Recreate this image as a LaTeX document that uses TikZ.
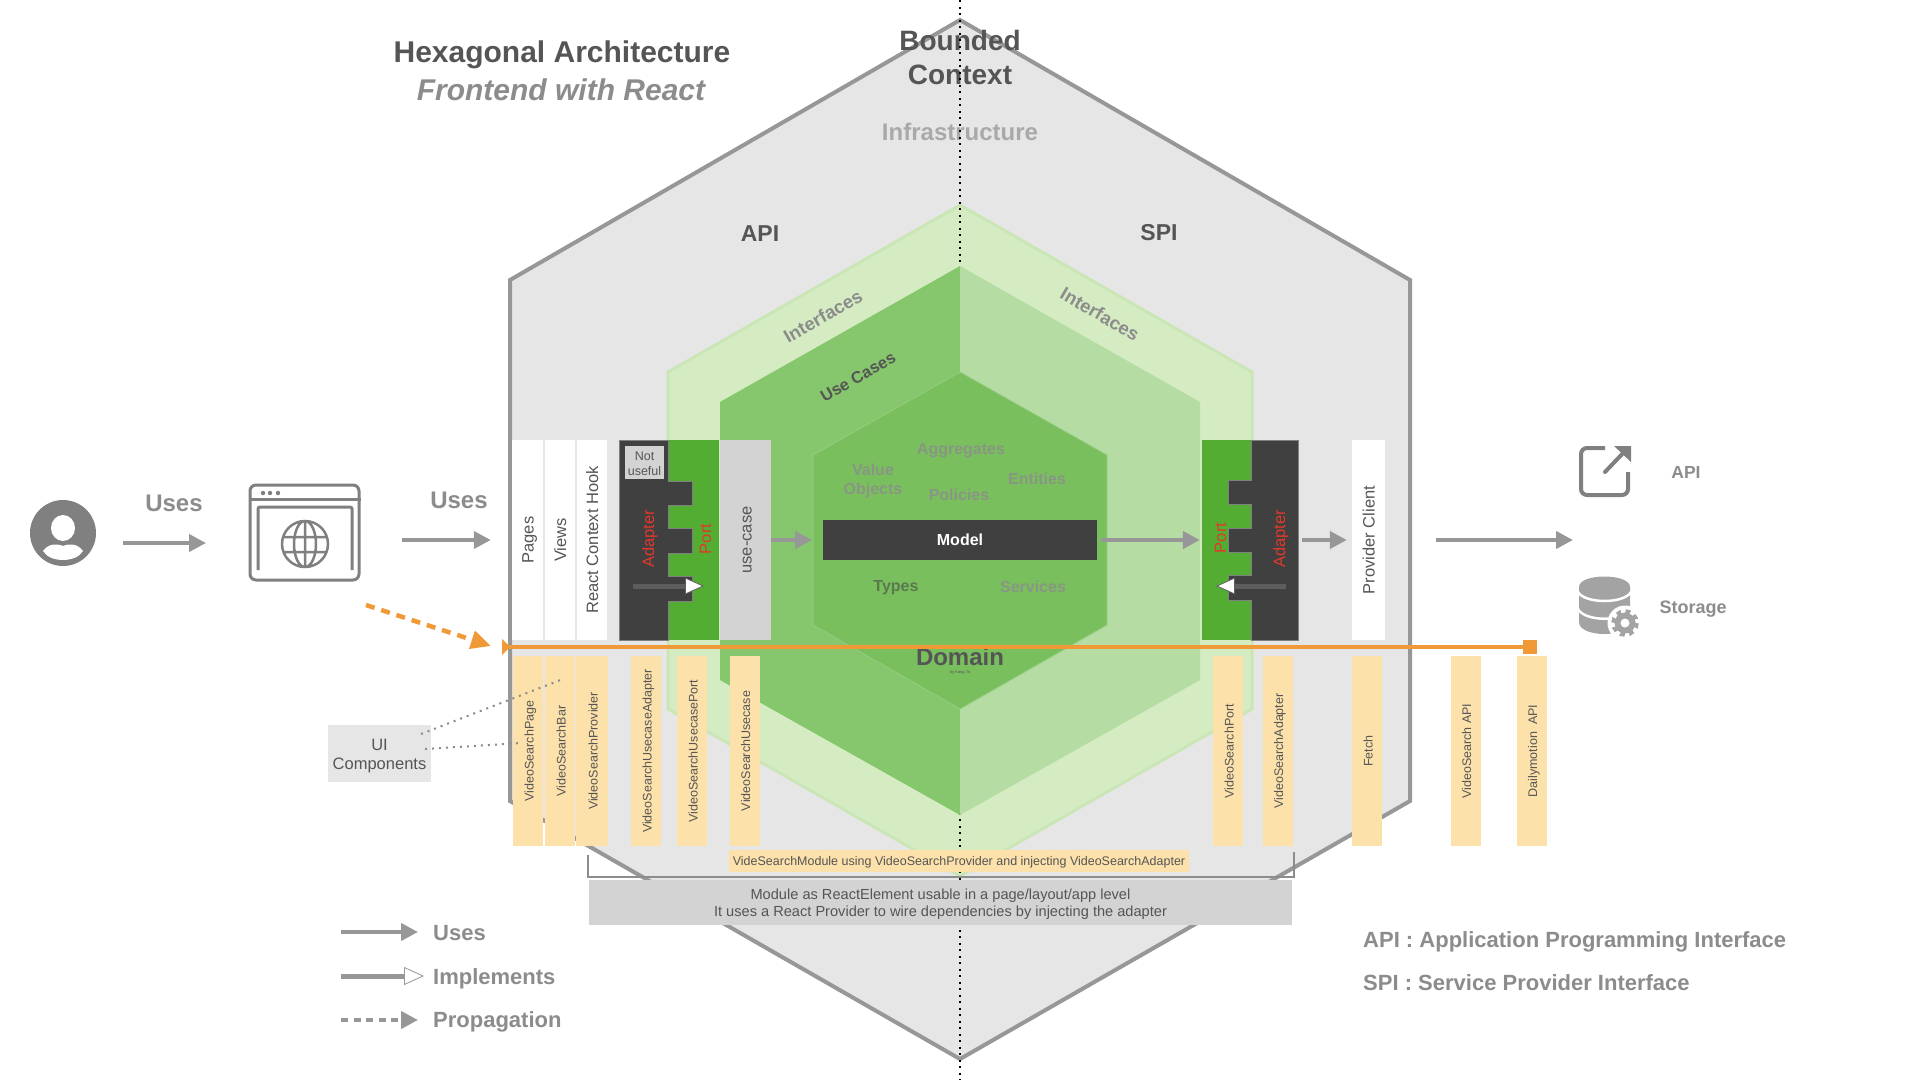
\documentclass[tikz,border=0pt]{standalone}
\usepackage{fontspec}
\setmainfont{Liberation Sans}
\usetikzlibrary{arrows.meta}

\definecolor{hexgray}{HTML}{E6E6E6}
\definecolor{linegray}{HTML}{979797}
\definecolor{labelgray}{HTML}{8C8C8C}
\definecolor{textgray}{HTML}{555555}
\definecolor{icongray}{HTML}{808080}
\definecolor{storagegray}{HTML}{A3A3A3}
\definecolor{boxgray}{HTML}{D3D3D3}
\definecolor{darkbox}{HTML}{404040}
\definecolor{interfacegreen}{HTML}{D5ECC2}
\definecolor{interfaceedge}{HTML}{CBE6B6}
\definecolor{usecasegreen}{HTML}{86C66C}
\definecolor{usecaselight}{HTML}{B5DCA3}
\definecolor{domaingreen}{HTML}{7ABF5E}
\definecolor{domainedge}{HTML}{97CE82}
\definecolor{portgreen}{HTML}{53AD32}
\definecolor{stripyellow}{HTML}{FDE1AB}
\definecolor{propagorange}{HTML}{F09A37}
\definecolor{adapterred}{HTML}{E0392B}
\newcommand{\fs}[1]{\fontsize{#1}{#1}\selectfont}

\begin{document}
\begin{tikzpicture}[x=1pt,y=-1pt,every text node part/.style={align=center}]
  \tikzstyle{lane}=[rotate=90,inner sep=0pt,minimum width=200pt,text height=12pt,
    text depth=0pt,text=textgray,font=\fs{16.5}]
  \tikzstyle{stripbox}=[rotate=90,inner sep=0pt,fill=stripyellow,text height=11pt,
    text depth=0pt,minimum width=190pt,minimum height=30pt,text=textgray,font=\fs{12.5}]
  \tikzstyle{redlabel}=[rotate=90,inner sep=0pt,text height=12pt,text depth=0pt,
    text=adapterred,font=\fs{16.5}]
  \tikzstyle{heading}=[inner sep=0pt,text=textgray,font=\bfseries\fs{23}]
  \tikzstyle{domainlabel}=[inner sep=0pt,text=darkbox!55!domaingreen,
    font=\bfseries\fs{16}]
  \tikzstyle{faintlabel}=[domainlabel,text=labelgray!80!domaingreen]
  \tikzstyle{legendlabel}=[inner sep=0pt,anchor=west,text=labelgray,
    font=\bfseries\fs{22}]
  \tikzstyle{usesarrow}=[draw=linegray,line width=4pt,
    -{Triangle[length=17pt,width=17pt]}]
  \tikzstyle{flowarrow}=[draw=darkbox!85!white,line width=5pt,
    -{Triangle[length=19pt,width=17pt,fill=white,line width=.8pt]}]
  \tikzstyle{iconline}=[draw=icongray,line width=3pt]

  \path[fill=white,use as bounding box] (0,0) rectangle (1920,1080);

  \draw[fill=hexgray,draw=linegray,line width=4pt] (960,20) -- (1410,280)
    -- (1410,801) -- (960,1059) -- (510,801) -- (510,280) -- cycle;
  \draw[fill=interfacegreen,draw=interfaceedge,line width=3pt] (960,205)
    -- (1252,372) -- (1252,709) -- (960,876) -- (668,709) -- (668,372) -- cycle;

  \node[inner sep=0pt,text=textgray,font=\bfseries\fontsize{28}{34}\selectfont]
    (bounded) at (960,57) {Bounded\\Context};
  \node[inner sep=0pt,text=labelgray!75!white,font=\bfseries\fs{24}]
    (infrastructure) at (960,132) {Infrastructure};
  \node[heading] (apititle) at (760,234) {API};
  \node[heading] (spititle) at (1159,233) {SPI};
  \node[inner sep=0pt,rotate=30,text=labelgray,font=\bfseries\fs{18.5}]
    (interfacesleft) at (823,316) {Interfaces};
  \node[inner sep=0pt,rotate=-30,text=labelgray,font=\bfseries\fs{18.5}]
    (interfacesright) at (1100,314) {Interfaces};

  \draw[black,line width=1.5pt,dash pattern=on 2pt off 4.5pt] (960,0) -- (960,1080);

  \fill[usecasegreen] (960,266) -- (720,402) -- (720,680) -- (960,815) -- cycle;
  \fill[usecaselight] (960,266) -- (1200,402) -- (1200,680) -- (960,815) -- cycle;
  \draw[fill=domaingreen,draw=domainedge,line width=.75pt] (960,372) -- (1107,455)
    -- (1107,625) -- (960,709) -- (813,625) -- (813,455) -- cycle;
  \node[inner sep=0pt,rotate=30,text=textgray,font=\bfseries\fs{16.5}]
    (usecases) at (858,377) {Use Cases};

  \node[faintlabel] (aggregates) at (961,451) {Aggregates};
  \node[faintlabel,font=\bfseries\fontsize{16}{19}\selectfont]
    (valueobjects) at (873,481) {Value\\Objects};
  \node[faintlabel] (policies) at (959,495) {Policies};
  \node[faintlabel] (entities) at (1037,479) {Entities};
  \node[domainlabel] (types) at (896,588) {Types};
  \node[faintlabel] (services) at (1033,587) {Services};
  \node[inner sep=0pt,text=textgray,font=\bfseries\fs{24}] (domain) at (960,657) {Domain};
  \node[inner sep=0pt,text=textgray,font=\fs{4}] (byline) at (960,672) {by Kang To};

  \node[lane,fill=white,minimum height=31pt] (pages) at (527.5,540) {Pages};
  \node[lane,fill=white,minimum height=30pt] (views) at (560,540) {Views};
  \node[lane,fill=white,minimum height=30pt] (contexthook) at (592,540) {React Context Hook};

  \fill[portgreen] (668,440) rectangle (719,640);
  \draw[fill=darkbox,draw=icongray,line width=.75pt] (619,440) -- (668,440) -- (668,481)
    -- (692,481) -- (692,505) -- (668,505) -- (668,528) -- (692,528) -- (692,553)
    -- (668,553) -- (668,576) -- (692,576) -- (692,601) -- (668,601) -- (668,640)
    -- (619,640) -- cycle;
  \node[inner sep=0pt,fill=boxgray,minimum width=39pt,minimum height=33pt,text=textgray,
    font=\fontsize{12.5}{15}\selectfont] (notuseful) at (644.5,462.5) {\rule{0pt}{11pt}Not\\useful};
  \node[redlabel] (adapterleft) at (648,539) {Adapter};
  \node[redlabel] (portleft) at (705,539) {Port};
  \node[lane,fill=boxgray,minimum height=51pt] (usecase) at (745.5,540) {use-case};
  \coordinate (flowleftfrom) at (633,586);
  \coordinate (flowleftto) at (704,586);
  \draw[flowarrow] (flowleftfrom) -- (flowleftto);

  \node[inner sep=0pt,fill=darkbox,minimum width=274pt,minimum height=40pt,text=white,
    font=\bfseries\fs{16}] (model) at (960,540) {Model};

  \node[inner sep=0pt,fill=portgreen,minimum width=49pt,minimum height=200pt]
    (portbox) at (1226.5,540) {};
  \draw[fill=darkbox,draw=icongray,line width=.75pt] (1298,440) -- (1251,440) -- (1251,480)
    -- (1228,480) -- (1228,504) -- (1251,504) -- (1251,528) -- (1228,528) -- (1228,552)
    -- (1251,552) -- (1251,575) -- (1228,575) -- (1228,600) -- (1251,600) -- (1251,640)
    -- (1298,640) -- cycle;
  \node[redlabel] (portright) at (1220,538) {Port};
  \node[redlabel] (adapterright) at (1279,539) {Adapter};
  \coordinate (flowrightfrom) at (1286,586);
  \coordinate (flowrightto) at (1216,586);
  \draw[flowarrow] (flowrightfrom) -- (flowrightto);
  \node[lane,fill=white,minimum height=33pt] (providerclient) at (1368.5,540) {Provider Client};

  \coordinate (domainwest) at (812,540);
  \coordinate (adapterout) at (1302,540);
  \coordinate (providerout) at (1436,540);
  \coordinate (backendin) at (1573,540);
  \draw[usesarrow] (usecase.south) -- (domainwest);
  \draw[usesarrow,shorten <=4pt,shorten >=2pt] (model.east) -- (portbox.west);
  \draw[usesarrow,shorten >=5pt] (adapterout) -- (providerclient.north);
  \draw[usesarrow] (providerout) -- (backendin);

  \node[circle,fill=icongray,minimum size=66pt,inner sep=0pt] (user) at (63,533) {};
  \fill[white] (63,528) ellipse [x radius=12,y radius=13];
  \fill[white] (43,551) .. controls (48,544) and (56,543) .. (63,546)
    .. controls (70,543) and (78,544) .. (83,551)
    .. controls (76,563) and (50,563) .. (43,551) -- cycle;

  \node[iconline,rounded corners=6pt,minimum width=109pt,minimum height=95pt,inner sep=0pt]
    (browser) at (304.5,532.5) {};
  \draw[iconline] (browser.west |- 0,499) -- (browser.east |- 0,499);
  \draw[iconline,rounded corners=2pt] (258,570) -- (258,507) -- (352,507) -- (352,570);
  \fill[icongray] (263,493) circle (2.2) (270,493) circle (2.2) (278,493) circle (2.2);
  \draw[iconline,line width=2.5pt] (305,544) circle (23) (305,544) ellipse [x radius=11,y radius=23]
    (305,521) -- (305,567) (284,537) -- (326,537) (284,552) -- (326,552);

  \coordinate (userout) at (123,543);
  \coordinate (browserin) at (206,543);
  \coordinate (browserout) at (402,540);
  \draw[usesarrow] (userout) -- (browserin);
  \draw[usesarrow,shorten >=21pt] (browserout) -- (pages.north);
  \node[legendlabel,anchor=center,font=\bfseries\fs{24}] (usesone) at (174,503) {Uses};
  \node[legendlabel,anchor=center,font=\bfseries\fs{24}] (usestwo) at (459,500) {Uses};

  \coordinate (orangefrom) at (366,605);
  \coordinate (orangeto) at (491,646);
  \draw[propagorange,line width=4.5pt,dash pattern=on 9pt off 7pt,
    -{Triangle[length=20pt,width=18pt]}] (orangefrom) -- (orangeto);
  \coordinate (timelinefrom) at (502,647);
  \coordinate (timelineto) at (1537,647);
  \draw[propagorange,line width=4pt,
    {Triangle[reversed,length=8pt,width=16pt]}-{Square[length=14pt,width=14pt]}]
    (timelinefrom) -- (timelineto);

  \node[stripbox] (searchpage) at (528,751) {VideoSearchPage};
  \node[stripbox] (searchbar) at (560,751) {VideoSearchBar};
  \node[stripbox,minimum height=32pt] (searchprovider) at (592,751) {VideoSearchProvider};
  \node[stripbox] (searchusecaseadapter) at (646,751) {VideoSearchUsecaseAdapter};
  \node[stripbox] (searchusecaseport) at (692,751) {VideoSearchUsecasePort};
  \node[stripbox] (searchusecase) at (744.5,751) {VideoSearchUsecase};
  \node[stripbox] (searchport) at (1228,751) {VideoSearchPort};
  \node[stripbox] (searchadapter) at (1277.5,751) {VideoSearchAdapter};
  \node[stripbox] (fetch) at (1367,751) {Fetch};
  \node[stripbox] (searchapi) at (1465.5,751) {VideoSearch API};
  \node[stripbox] (dailymotionapi) at (1531.5,751) {Dailymotion\ \ API};

  \node[inner sep=0pt,fill=hexgray,minimum width=103pt,minimum height=57pt,text=textgray,
    font=\fontsize{16.5}{19}\selectfont] (uicomponents) at (379.5,753.5)
    {\rule{0pt}{17pt}UI\\Components};
  \coordinate (uibar) at (563,679);
  \coordinate (uipage) at (521,743);
  \draw[labelgray,line width=2pt,dash pattern=on 2pt off 5pt] (421,734) -- (uibar);
  \draw[labelgray,line width=2pt,dash pattern=on 2pt off 5pt] (425,749) -- (uipage);

  \node[inner sep=0pt,fill=stripyellow,minimum width=460pt,minimum height=22pt,text=textgray,
    font=\fs{12.5}] (searchmodule) at (959,861) {\rule{0pt}{11pt}VideSearchModule using VideoSearchProvider and injecting VideoSearchAdapter};
  \draw[labelgray,line width=2pt] (588,855) -- (588,877) -- (1294,877) -- (1294,852);
  \node[inner sep=0pt,fill=boxgray,minimum width=703pt,minimum height=45pt,text=textgray,
    font=\fontsize{14.6}{17}\selectfont] (modulenote) at (940.5,902.5)
    {\rule{0pt}{14pt}Module as ReactElement usable in a page/layout/app level\\It uses a React Provider to wire dependencies by injecting the adapter};

  \draw[icongray,line width=4pt,rounded corners=6pt] (1605,448) -- (1581,448) -- (1581,495)
    -- (1628,495) -- (1628,472);
  \draw[icongray,line width=4pt,line cap=round] (1605,472) -- (1625,451);
  \fill[icongray] (1614,446) -- (1631,446) -- (1631,462) -- cycle;
  \node[inner sep=0pt,text=labelgray,font=\bfseries\fs{17.5}] (apilabel) at (1686,472) {API};

  \fill[storagegray] (1579,587) .. controls (1579,573) and (1630,573) .. (1630,587)
    -- (1630,622) .. controls (1630,638) and (1579,638) .. (1579,622) -- cycle;
  \draw[white,line width=2.5pt] (1578,592) .. controls (1585,604) and (1624,604) .. (1631,592);
  \draw[white,line width=2.5pt] (1578,609) .. controls (1585,622) and (1624,622) .. (1631,609);
  \fill[white] (1625,623) circle (17.5);
  \fill[storagegray] (1625,623) circle (10.5);
  \draw[storagegray,line width=5pt,dash pattern=on 4.5pt off 4.39pt] (1625,623) circle (11.3);
  \fill[white] (1625,623) circle (4.5);
  \node[inner sep=0pt,text=labelgray,font=\bfseries\fs{18}] (storagelabel) at (1693,609) {Storage};

  \node[inner sep=0pt,text=textgray,font=\bfseries\fs{30}] (titleone) at (562,55) {Hexagonal Architecture};
  \node[inner sep=0pt,text=labelgray,font=\bfseries\itshape\fs{30}] (titletwo) at (561,90) {Frontend with React};

  \node[legendlabel] (legenduses) at (433,933) {Uses};
  \node[legendlabel] (legendimplements) at (433,978.5) {Implements};
  \node[legendlabel] (legendpropagation) at (433,1022) {Propagation};
  \coordinate (usesfrom) at (341,932);
  \coordinate (implementsfrom) at (341,976);
  \coordinate (propagationfrom) at (341,1020);
  \draw[usesarrow,shorten >=15pt] (usesfrom) -- (legenduses.west |- usesfrom);
  \draw[draw=linegray,line width=5pt,shorten >=9pt,
    -{Triangle[open,fill=white,length=20pt,width=18pt,line width=.8pt]}]
    (implementsfrom) -- (legendimplements.west |- implementsfrom);
  \draw[usesarrow,dash pattern=on 7pt off 5.5pt,shorten >=15pt] (propagationfrom)
    -- (legendpropagation.west |- propagationfrom);

  \node[legendlabel] (apidefinition) at (1363,941.5) {API : Application Programming Interface};
  \node[legendlabel] (spidefinition) at (1363,982.5) {SPI : Service Provider Interface};
\end{tikzpicture}
\end{document}
